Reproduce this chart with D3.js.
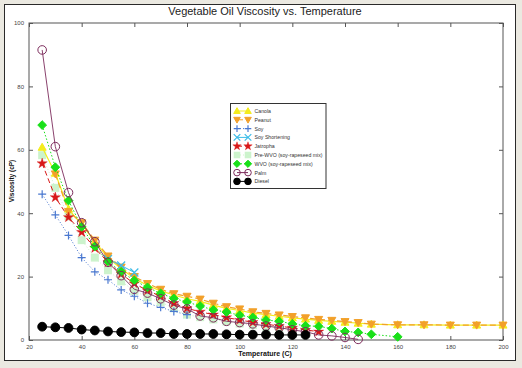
<!DOCTYPE html>
<html><head><meta charset="utf-8">
<script src="https://cdn.jsdelivr.net/npm/d3@7"></script>
<style>
html,body{margin:0;padding:0;background:#ebe9e1;}
svg{display:block;font-family:"Liberation Sans",Arial,sans-serif;}
</style></head><body>
<svg id="c" width="522" height="368"></svg>
<script>
const title = "Vegetable Oil Viscosity vs. Temperature";
const xLabel = "Temperature (C)";
const yLabel = "Viscosity (cP)";
const xTicks = [20,40,60,80,100,120,140,160,180,200];
const yTicks = [0,20,40,60,80,100];

const tempStd = [25,30,35,40,45,50,55,60,65,70,75,80,85,90,95,100,105,110,115,120,125,130,135,140,145];
const canolaT = [25,30,35,40,45,50,55,60,65,70,75,80,85,90,95,100,105,110,115,120,125,130,135,140,145,150,160,170,180,190,200];
const canolaV = [60.8,52.6,41.3,36.5,31,26,22.5,19.5,17.2,15.5,14.2,13,12.2,11,10,9.3,8.5,8,7.5,7,6.6,6.2,5.9,5.6,5.3,5,4.8,4.8,4.7,4.7,4.7];
const peanutT = [30,35,40,45,50,55,60,65,70,75,80,85,90,95,100,105,110,115,120,125,130,135,140,145,150,160,170,180,190,200];
const peanutV = [52.4,40.5,37,31.5,26.5,23,20,17.8,16,14.6,13.8,12.9,11.6,10.5,9.8,8.9,8.4,7.9,7.4,7,6.5,6.2,5.8,5.5,5,4.8,4.8,4.7,4.7,4.7];
const soyT = [25,30,35,40,45,50,55,60,65,70,75,80];
const soyV = [46,39.5,33,26,21.5,19,15.8,13.8,11.6,10.3,9,8];
const shortT = [50,55,60];
const shortV = [25.5,23.5,21.3];
const jatrophaT = [25,30,35,40,45,50,55,60,65,70,75,80,85,90,95,100,105,110,115,120,125,130];
const jatrophaV = [55.7,45,38.7,34,29,24.5,20.8,17.8,15.6,13.8,11.6,10,8.9,8,7.1,6.3,5.6,5,4.4,3.8,3.2,2.6];
const preT = [25,30,35,40,45,50,55,60,65,70,75,80,85,90,95,100,105,110,115,120];
const preV = [58.3,48,39,31.5,26,22,18.5,15.5,13.5,12,10,8,7.2,6.5,5.8,5.2,4.7,4.2,3.8,3.4];
const wvoT = [25,30,35,40,45,50,55,60,65,70,75,80,85,90,95,100,105,110,115,120,125,130,135,140,145,150,160];
const wvoV = [67.8,54.5,44,35.7,29.5,24.8,21.5,18.8,16.6,14.7,13.1,12,10.7,9.5,8.8,7.8,7.1,6.3,5.9,5.1,4.5,4.3,3.6,2.7,2.4,1.8,1.0];
const palmT = tempStd;
const palmV = [91.5,61,46.5,37,31,24.5,20.3,16,14.8,13,11,9.8,7.6,7,5.9,5.5,5.1,4.4,3.9,3.2,2.6,1.6,1.3,0.8,0.2];
const dieselT = [25,30,35,40,45,50,55,60,65,70,75,80,85,90,95,100,105,110,115,120,125];
const dieselV = [4.2,4.0,3.8,3.3,3.0,2.7,2.5,2.4,2.2,2.2,1.9,1.9,1.9,1.9,1.8,1.7,1.7,1.7,1.6,1.6,1.6];

const series = [
  {name:"Canola", T:canolaT, V:canolaV, color:"#f4ec1c", marker:"triUp", fill:true, dash:null, lw:1.2},
  {name:"Peanut", T:peanutT, V:peanutV, color:"#f2a02a", marker:"triDown", fill:true, dash:"6,3", lw:1.2},
  {name:"Soy", T:soyT, V:soyV, color:"#4a78d0", marker:"plus", fill:false, dash:"1,2", lw:1},
  {name:"Soy Shortening", T:shortT, V:shortV, color:"#3cbce8", marker:"cross", fill:false, dash:null, lw:1},
  {name:"Jatropha", T:jatrophaT, V:jatrophaV, color:"#d81818", marker:"star", fill:true, dash:"5,3", lw:1},
  {name:"Pre-WVO (soy-rapeseed mix)", T:preT, V:preV, color:"#ccf3cc", marker:"square", fill:true, dash:"1,2", lw:1},
  {name:"WVO (soy-rapeseed mix)", T:wvoT, V:wvoV, color:"#19e019", marker:"diamond", fill:true, dash:"1.5,2", lw:1},
  {name:"Palm", T:palmT, V:palmV, color:"#7d2c5c", marker:"circle", fill:false, dash:null, lw:0.9},
  {name:"Diesel", T:dieselT, V:dieselV, color:"#000000", marker:"circle", fill:true, dash:null, lw:1}
];

const svg = d3.select("#c");
svg.append("rect").attr("x",4.5).attr("y",4.5).attr("width",511).attr("height",356)
  .attr("fill","#ffffff").attr("stroke","#2a2a2a").attr("stroke-width",1);

const L=29, R=503, T0=23, B=340;
const x = d3.scaleLinear().domain([20,200]).range([L,R]);
const y = d3.scaleLinear().domain([0,100]).range([B,T0]);

svg.append("text").attr("x",265).attr("y",15).attr("text-anchor","middle")
  .attr("font-size",11).attr("fill","#222").text(title);

svg.append("rect").attr("x",L).attr("y",T0).attr("width",R-L).attr("height",B-T0)
  .attr("fill","none").attr("stroke","#555").attr("stroke-width",1);

const gx = svg.append("g").attr("transform",`translate(0,${B})`)
  .call(d3.axisBottom(x).tickValues(xTicks).tickSize(-4).tickPadding(5).tickFormat(d3.format("d")));
const gxt = svg.append("g").attr("transform",`translate(0,${T0})`)
  .call(d3.axisTop(x).tickValues(xTicks).tickSize(-4).tickFormat(""));
const gy = svg.append("g").attr("transform",`translate(${L},0)`)
  .call(d3.axisLeft(y).tickValues(yTicks).tickSize(-4).tickPadding(5).tickFormat(d3.format("d")));
const gyr = svg.append("g").attr("transform",`translate(${R},0)`)
  .call(d3.axisRight(y).tickValues(yTicks).tickSize(-4).tickFormat(""));
[gx,gxt,gy,gyr].forEach(g=>{
  g.select(".domain").remove();
  g.selectAll("line").attr("stroke","#555");
  g.selectAll("text").attr("font-size",6).attr("fill","#444").attr("font-family","Liberation Sans, Arial, sans-serif");
});

svg.append("text").attr("x",265).attr("y",356).attr("text-anchor","middle")
  .attr("font-size",7).attr("font-weight","bold").attr("fill","#111").text(xLabel);
svg.append("text").attr("transform","translate(14,181) rotate(-90)").attr("text-anchor","middle")
  .attr("font-size",6.5).attr("font-weight","bold").attr("fill","#111").text(yLabel);

function drawMarker(g, cx, cy, s, sz){
  const c = s.color;
  const r = sz||4.2;
  switch(s.marker){
    case "triUp": g.append("path").attr("d",`M${cx},${cy-r}L${cx+r},${cy+r*0.75}L${cx-r},${cy+r*0.75}Z`).attr("fill",c).attr("stroke",c); break;
    case "triDown": g.append("path").attr("d",`M${cx},${cy+r}L${cx+r},${cy-r*0.75}L${cx-r},${cy-r*0.75}Z`).attr("fill",c).attr("stroke",c); break;
    case "plus": g.append("path").attr("d",`M${cx-r},${cy}H${cx+r}M${cx},${cy-r}V${cy+r}`).attr("stroke",c).attr("stroke-width",1.2).attr("fill","none"); break;
    case "cross": g.append("path").attr("d",`M${cx-r},${cy-r}L${cx+r},${cy+r}M${cx-r},${cy+r}L${cx+r},${cy-r}`).attr("stroke",c).attr("stroke-width",1.2).attr("fill","none"); break;
    case "star": g.append("path").attr("d",d3.symbol(d3.symbolStar, r*r*2.0)()).attr("transform",`translate(${cx},${cy})`).attr("fill",c).attr("stroke",c).attr("stroke-width",0.4); break;
    case "square": g.append("rect").attr("x",cx-r).attr("y",cy-r).attr("width",2*r).attr("height",2*r).attr("fill",c); break;
    case "diamond": g.append("path").attr("d",`M${cx},${cy-r*1.1}L${cx+r*1.1},${cy}L${cx},${cy+r*1.1}L${cx-r*1.1},${cy}Z`).attr("fill",c).attr("stroke",c); break;
    case "circle": g.append("circle").attr("cx",cx).attr("cy",cy).attr("r",r)
      .attr("fill",s.fill?c:"none").attr("stroke",c).attr("stroke-width",1); break;
  }
}

const plot = svg.append("g");
const line = d3.line().x(d=>x(d[0])).y(d=>y(d[1]));
const order = [5,0,1,2,3,4,6,7,8];
order.forEach(i=>{
  const s = series[i];
  const pts = s.T.map((t,k)=>[t,s.V[k]]);
  const g = plot.append("g");
  g.append("path").attr("d",line(pts)).attr("fill","none").attr("stroke",s.color)
    .attr("stroke-width",s.lw).attr("stroke-dasharray",s.dash);
  const sz = s.name==="Diesel"?4.4:(s.marker==="circle"?4.3:4);
  pts.forEach(p=>drawMarker(g, x(p[0]), y(p[1]), s, sz));
});

const lg = svg.append("g");
lg.append("rect").attr("x",230.5).attr("y",103.5).attr("width",95.5).attr("height",85)
  .attr("fill","#fff").attr("stroke","#333").attr("stroke-width",1);
series.forEach((s,i)=>{
  const ly = 111 + i*8.8;
  lg.append("line").attr("x1",237).attr("x2",248).attr("y1",ly).attr("y2",ly)
    .attr("stroke",s.color).attr("stroke-width",1).attr("stroke-dasharray",s.dash);
  drawMarker(lg,237,ly,s,3.3);
  drawMarker(lg,248,ly,s,3.3);
  lg.append("text").attr("x",254.5).attr("y",ly+2).attr("font-size",5.2).attr("fill","#333").text(s.name);
});
</script>
</body></html>
